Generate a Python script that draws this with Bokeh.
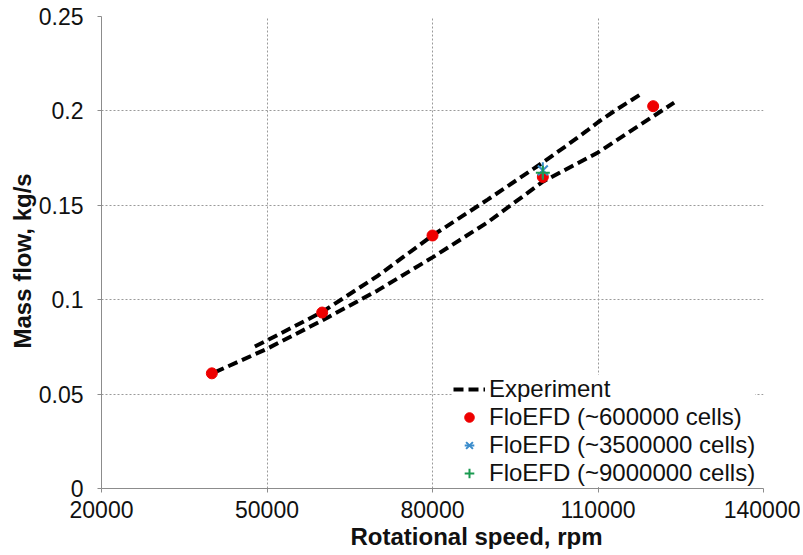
import math
from bokeh.plotting import figure
from bokeh.models import (Range1d, FixedTicker, CustomJSTickFormatter, NumeralTickFormatter,
                          Legend, LegendItem, Title)
from bokeh.embed import file_html
from bokeh.resources import INLINE

# ---- data ----
x_ticks = [20000, 50000, 80000, 110000, 140000]
y_ticks = [0, 0.05, 0.1, 0.15, 0.2, 0.25]

exp_up_rpm = [47800, 50000, 60000, 70000, 80000, 90000, 100000, 104000, 108000, 110000, 113000, 118200]
exp_up_flow = [0.0752, 0.0784, 0.0935, 0.1125, 0.134, 0.153, 0.1727, 0.181, 0.1895, 0.194, 0.2, 0.2097]

exp_low_rpm = [40500, 50000, 60000, 70000, 80000, 90000, 100000, 110000, 123800]
exp_low_flow = [0.0615, 0.074, 0.089, 0.1048, 0.1224, 0.141, 0.1625, 0.178, 0.2044]

sim600k_rpm = [40000, 60000, 80000, 100000, 120000]
sim600k_flow = [0.061, 0.0932, 0.134, 0.165, 0.2025]

sim3500k_rpm = [100000]
sim3500k_flow = [0.1685]

sim9000k_rpm = [100000]
sim9000k_flow = [0.1672]

labels = ["Experiment", "FloEFD (~600000 cells)", "FloEFD (~3500000 cells)", "FloEFD (~9000000 cells)"]
x_title = "Rotational speed, rpm"
y_title = "Mass flow, kg/s"

FONT = "Liberation Sans"

p = figure(frame_width=662, frame_height=472, output_backend="svg", toolbar_location=None,
           x_range=Range1d(20000, 140000), y_range=Range1d(0, 0.25),
           min_border_left=101, min_border_right=37, min_border_top=16, min_border_bottom=40,
           background_fill_color="white", border_fill_color="white")
p.outline_line_color = None

# grids
p.xgrid.ticker = FixedTicker(ticks=x_ticks)
p.ygrid.ticker = FixedTicker(ticks=y_ticks)
for g in (p.xgrid, p.ygrid):
    g.grid_line_color = "#9a9a9a"
    g.grid_line_dash = "2 2"
    g.grid_line_width = 1

# axes
p.xaxis.ticker = FixedTicker(ticks=x_ticks)
p.yaxis.ticker = FixedTicker(ticks=y_ticks)
p.xaxis.formatter = NumeralTickFormatter(format="0")
p.yaxis.formatter = CustomJSTickFormatter(code="return String(Number(tick.toFixed(2)));")
for ax in (p.xaxis, p.yaxis):
    ax.axis_line_color = "#8c8c8c"
    ax.major_tick_line_color = "#8c8c8c"
    ax.major_tick_out = 4
    ax.major_tick_in = 0
    ax.minor_tick_out = 0
    ax.minor_tick_in = 0
    ax.major_label_text_font = FONT
    ax.major_label_text_font_size = "23px"
    ax.major_label_text_color = "#111111"
p.xaxis.major_label_standoff = 8
p.yaxis.major_label_standoff = 14

# axis titles as side titles (x title sits right of centre, as in the original)
p.add_layout(Title(text=x_title, align="left", offset=249, standoff=0,
                   text_font=FONT, text_font_size="24px", text_font_style="bold",
                   text_color="#111111"), "below")
p.add_layout(Title(text=y_title, align="left", offset=140, standoff=0,
                   text_font=FONT, text_font_size="24px", text_font_style="bold",
                   text_color="#111111"), "left")

# experiment: two branches joined with a NaN break
exp_x = exp_low_rpm + [float("nan")] + exp_up_rpm
exp_y = exp_low_flow + [float("nan")] + exp_up_flow
r_exp = p.line(exp_x, exp_y, line_color="black", line_width=4, line_dash="10 5")

r_red = p.scatter(sim600k_rpm, sim600k_flow, marker="circle", size=11,
                  fill_color="#ee0000", line_color="#ee0000")
r_star1 = p.scatter(sim3500k_rpm, sim3500k_flow, marker="x", size=14,
                    line_color="#3a8ccc", line_width=2)
r_star2 = p.scatter(sim3500k_rpm, sim3500k_flow, marker="dash", size=16, angle=math.pi / 2,
                    line_color="#3a8ccc", line_width=2)
r_plus = p.scatter(sim9000k_rpm, sim9000k_flow, marker="cross", size=14,
                   line_color="#1a9a50", line_width=2)

legend = Legend(items=[
    LegendItem(label=labels[0], renderers=[r_exp]),
    LegendItem(label=labels[1], renderers=[r_red]),
    LegendItem(label=labels[2], renderers=[r_star1, r_star2]),
    LegendItem(label=labels[3], renderers=[r_plus]),
], location=(352, 1))
legend.padding = 0
legend.margin = 0
legend.spacing = 0
legend.glyph_width = 32
legend.glyph_height = 24
legend.label_height = 24
legend.label_standoff = 4
legend.border_line_color = None
legend.background_fill_color = "white"
legend.background_fill_alpha = 1
legend.label_text_font = FONT
legend.label_text_font_size = "24px"
legend.label_text_line_height = 1.0
legend.label_text_color = "#111111"
p.add_layout(legend, "center")

open("out.html", "w").write(file_html(p, INLINE))
